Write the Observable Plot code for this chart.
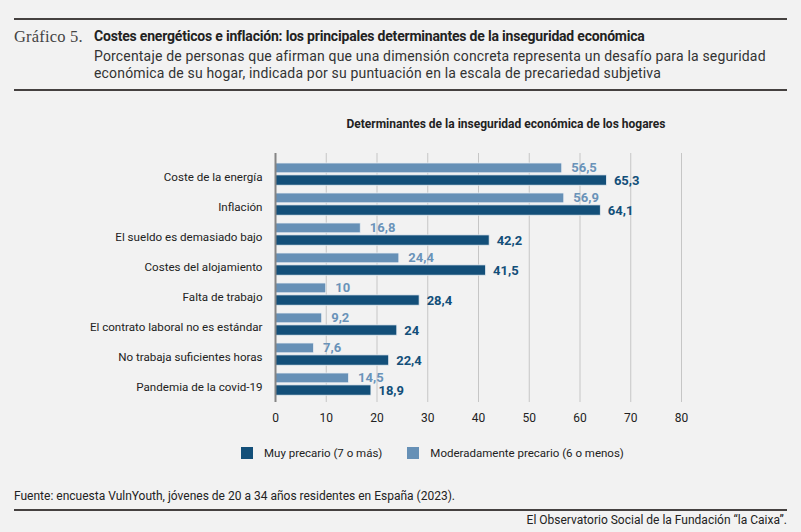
<!DOCTYPE html>
<html>
<head>
<meta charset="utf-8">
<script src="https://cdn.jsdelivr.net/npm/d3@7"></script>
<script src="https://cdn.jsdelivr.net/npm/@observablehq/plot@0.6"></script>
<style>
  html, body { margin: 0; padding: 0; background: #f2f2f2; }
  #page { position: relative; width: 801px; height: 532px; background: #f2f2f2; font-family: Roboto, "Liberation Sans", sans-serif; color: #222; overflow: hidden; }
  .rule { position: absolute; left: 14px; width: 773px; height: 2px; background: #454140; }
  .abs { position: absolute; white-space: nowrap; }
  #num { left: 14px; top: 27px; font-family: "Liberation Serif", "DejaVu Serif", serif; font-size: 16.5px; color: #444; letter-spacing: 0.2px; }
  #title { left: 94px; top: 28px; font-weight: 700; font-size: 14px; letter-spacing: -0.2px; color: #222; }
  #subtitle { left: 94px; top: 48px; font-size: 14px; line-height: 17px; letter-spacing: 0.17px; color: #333; white-space: normal; width: 690px; }
  #ctitle { left: 275px; width: 462px; top: 117px; text-align: center; font-weight: 700; font-size: 12px; color: #222; }
  #chart { position: absolute; left: 0; top: 140px; }
  #legend { position: absolute; top: 446px; left: 241px; display: flex; align-items: center; font-size: 11.5px; color: #222; }
  .sw { display: inline-block; width: 12px; height: 12px; margin-right: 11px; }
  .li { display: flex; align-items: center; margin-right: 25px; }
  #source { left: 14px; top: 489px; font-size: 12px; color: #222; }
  #credit { right: 14px; top: 513px; font-size: 12px; color: #222; }
</style>
</head>
<body>
<div id="page">
  <div class="rule" style="top:18px"></div>
  <div class="abs" id="num"></div>
  <div class="abs" id="title"></div>
  <div class="abs" id="subtitle"></div>
  <div class="rule" style="top:89px"></div>
  <div class="abs" id="ctitle"></div>
  <div id="chart"></div>
  <div id="legend"></div>
  <div class="abs" id="source"></div>
  <div class="rule" style="top:509px"></div>
  <div class="abs" id="credit"></div>
</div>
<script>
// ---- data ----
const categories = [
  "Coste de la energía",
  "Inflación",
  "El sueldo es demasiado bajo",
  "Costes del alojamiento",
  "Falta de trabajo",
  "El contrato laboral no es estándar",
  "No trabaja suficientes horas",
  "Pandemia de la covid-19"
];
const muyPrecario = [65.3, 64.1, 42.2, 41.5, 28.4, 24, 22.4, 18.9];
const moderadamente = [56.5, 56.9, 16.8, 24.4, 10, 9.2, 7.6, 14.5];
const seriesNames = ["Muy precario (7 o más)", "Moderadamente precario (6 o menos)"];
const seriesColors = ["#134f79", "#6690b6"];
const xTicks = [0, 10, 20, 30, 40, 50, 60, 70, 80];

const figureNumber = "Gráfico 5.";
const titleText = "Costes energéticos e inflación: los principales determinantes de la inseguridad económica";
const subtitleText = "Porcentaje de personas que afirman que una dimensión concreta representa un desafío para la seguridad económica de su hogar, indicada por su puntuación en la escala de precariedad subjetiva";
const chartTitle = "Determinantes de la inseguridad económica de los hogares";
const sourceText = "Fuente: encuesta VulnYouth, jóvenes de 20 a 34 años residentes en España (2023).";
const creditText = "El Observatorio Social de la Fundación “la Caixa”.";

// ---- build tables ----
const dark = categories.map((c, i) => ({category: c, value: muyPrecario[i]}));
const light = categories.map((c, i) => ({category: c, value: moderadamente[i]}));
const fmt = v => String(v).replace(".", ",");

document.getElementById("num").textContent = figureNumber;
document.getElementById("title").textContent = titleText;
document.getElementById("subtitle").textContent = subtitleText;
document.getElementById("ctitle").textContent = chartTitle;
document.getElementById("source").textContent = sourceText;
document.getElementById("credit").textContent = creditText;

const chart = Plot.plot({
  width: 801,
  height: 300,
  marginLeft: 275,
  marginRight: 120,
  marginTop: 13,
  marginBottom: 38,
  style: {background: "transparent", fontFamily: "Roboto, 'Liberation Sans', sans-serif", fontSize: "12px", color: "#222"},
  x: {domain: [0, 80], ticks: xTicks},
  y: {domain: categories, padding: 0, insetTop: 3},
  marks: [
    Plot.gridX(xTicks, {stroke: "#c6c6c6", strokeOpacity: 1, strokeWidth: 1}),
    Plot.barX(light, {x: "value", y: "category", fill: seriesColors[1], insetTop: 4, insetBottom: 16.2, stroke: "#e9eef3", strokeWidth: 0.8}),
    Plot.barX(dark, {x: "value", y: "category", fill: seriesColors[0], insetTop: 15.9, insetBottom: 3.8, stroke: "#e9eef3", strokeWidth: 0.8}),
    Plot.ruleX([0], {stroke: "#858585", strokeWidth: 2}),
    Plot.text(light, {x: "value", y: "category", text: d => fmt(d.value), dx: 9, dy: -6.2, textAnchor: "start", fill: "#6a93b9", fontWeight: 700, fontSize: 13}),
    Plot.text(dark, {x: "value", y: "category", text: d => fmt(d.value), dx: 7, dy: 6.2, textAnchor: "start", fill: seriesColors[0], fontWeight: 700, fontSize: 13}),
    Plot.axisY({tickSize: 0, tickPadding: 13, dy: 2.5, fontSize: 11.6, label: null}),
    Plot.axisX({ticks: xTicks, tickSize: 0, tickPadding: 11, fontSize: 12, label: null})
  ]
});
document.getElementById("chart").appendChild(chart);

// legend
const legend = document.getElementById("legend");
seriesNames.forEach((name, i) => {
  const item = document.createElement("div");
  item.className = "li";
  const sw = document.createElement("span");
  sw.className = "sw";
  sw.style.background = seriesColors[i];
  const t = document.createElement("span");
  t.textContent = name;
  item.appendChild(sw);
  item.appendChild(t);
  legend.appendChild(item);
});
</script>
</body>
</html>
